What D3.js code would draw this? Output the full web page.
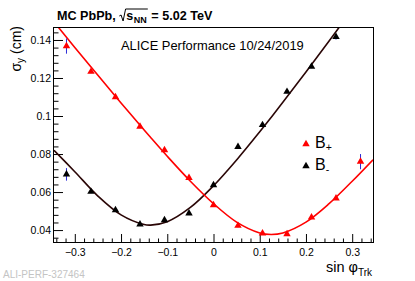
<!DOCTYPE html>
<html>
<head>
<meta charset="utf-8">
<script src="https://cdn.jsdelivr.net/npm/d3@7"></script>
<style>
  body { margin: 0; background: #fff; }
  svg { display: block; font-family: "Liberation Sans", Arial, sans-serif; }
</style>
</head>
<body>
<svg id="chart" width="415" height="281"></svg>
<script>
// bin centres in sin(phi_trk)
const sinPhi = [-0.318, -0.265, -0.212, -0.159, -0.106, -0.053, 0, 0.053, 0.106, 0.159, 0.212, 0.265, 0.318];
const sigmaBplus = [0.1368, 0.1233, 0.1100, 0.0944, 0.0821, 0.0675, 0.0532, 0.0423, 0.0383, 0.0379, 0.0467, 0.0567, 0.0760];
const errBplus = [0.0040, 0.0008, 0.0008, 0.0008, 0.0008, 0.0008, 0.0008, 0.0008, 0.0008, 0.0008, 0.0008, 0.0008, 0.0040];
// B- has no point inside the frame in the last bin
const sigmaBminus = [0.0693, 0.0602, 0.0505, 0.0430, 0.0453, 0.0488, 0.0637, 0.0838, 0.0953, 0.1128, 0.1260, 0.1417];
const errBminus = [0.0033, 0.0008, 0.0008, 0.0008, 0.0008, 0.0008, 0.0008, 0.0010, 0.0008, 0.0008, 0.0008, 0.0015];

// fit curves
const fitX = [-0.345, -0.30, -0.25, -0.20, -0.15, -0.136, -0.10, -0.05, 0, 0.05, 0.10, 0.125, 0.15, 0.20, 0.25, 0.30, 0.345];
const fitBplus = [0.1495, 0.1361, 0.1214, 0.1069, 0.0926, 0.0887, 0.0788, 0.0657, 0.0539, 0.0442, 0.0385, 0.0377, 0.0385, 0.0442, 0.0539, 0.0657, 0.0770];
const fitBminus = [0.0820, 0.0707, 0.0579, 0.0480, 0.0429, 0.0426, 0.0444, 0.0519, 0.0633, 0.0769, 0.0917, 0.0994, 0.1072, 0.1232, 0.1395, 0.1560, 0.1710];

const xTicks = [-0.3, -0.2, -0.1, 0, 0.1, 0.2, 0.3];
const yTicks = [0.04, 0.06, 0.08, 0.1, 0.12, 0.14];

const svg = d3.select('#chart');
const frame = { left: 54, right: 373, top: 28, bottom: 243 };

const x = d3.scaleLinear().domain([-0.345, 0.345]).range([frame.left, frame.right]);
const y = d3.scaleLinear().domain([0.0332, 0.1463]).range([frame.bottom, frame.top]);

svg.append('rect').attr('width', 415).attr('height', 281).attr('fill', '#fff');

svg.append('defs').append('clipPath').attr('id', 'plotClip')
    .append('rect')
    .attr('x', frame.left).attr('y', frame.top)
    .attr('width', frame.right - frame.left).attr('height', frame.bottom - frame.top);

// minor ticks
const xMinor = d3.range(-0.34, 0.345, 0.02).filter(v => Math.abs(v * 10 - Math.round(v * 10)) > 1e-6);
const yMinor = d3.range(0.036, 0.1465, 0.004).filter(v => Math.abs(v * 50 - Math.round(v * 50)) > 1e-6);

svg.append('g')
    .attr('transform', `translate(0,${frame.bottom})`)
    .call(d3.axisBottom(x).tickValues(xTicks).tickSize(-9).tickPadding(6)
        .tickFormat(d => d === 0 ? '0' : d3.format('.1f')(d)));
svg.append('g')
    .attr('transform', `translate(0,${frame.bottom})`)
    .call(d3.axisBottom(x).tickValues(xMinor).tickSize(-4.5).tickFormat(''));

svg.append('g')
    .attr('transform', `translate(${frame.left},0)`)
    .call(d3.axisLeft(y).tickValues(yTicks).tickSize(-9).tickPadding(3)
        .tickFormat(d => String(+d.toFixed(2))));
svg.append('g')
    .attr('transform', `translate(${frame.left},0)`)
    .call(d3.axisLeft(y).tickValues(yMinor).tickSize(-4.5).tickFormat(''));

svg.selectAll('.domain').remove();
svg.selectAll('.tick line').attr('stroke', '#000');
svg.selectAll('.tick text')
    .attr('font-family', '"Liberation Sans", Arial, sans-serif')
    .attr('font-size', 10.5).attr('fill', '#000');

// frame
svg.append('rect')
    .attr('x', frame.left - 0.5).attr('y', frame.top - 0.5)
    .attr('width', frame.right - frame.left + 1).attr('height', frame.bottom - frame.top)
    .attr('fill', 'none').attr('stroke', '#000').attr('stroke-width', 1);

const plot = svg.append('g').attr('clip-path', 'url(#plotClip)');

const line = d3.line()
    .x((d, i) => x(fitX[i]))
    .y(d => y(d))
    .curve(d3.curveCatmullRom.alpha(0.5));

plot.append('path').datum(fitBminus)
    .attr('d', line).attr('fill', 'none')
    .attr('stroke', '#2a0606').attr('stroke-width', 1.6);
plot.append('path').datum(fitBplus)
    .attr('d', line).attr('fill', 'none')
    .attr('stroke', '#ff0000').attr('stroke-width', 1.6);

const tri = d3.symbol().type(d3.symbolTriangle).size(24);

const drawSeries = (values, errs, color) => {
    const pts = values.map((v, i) => ({ x: sinPhi[i], y: v, e: errs[i] }));
    plot.append('g').selectAll('line')
        .data(pts)
        .join('line')
        .attr('x1', d => x(d.x)).attr('x2', d => x(d.x))
        .attr('y1', d => y(d.y - d.e)).attr('y2', d => y(d.y + d.e))
        .attr('stroke', '#2a2ad8').attr('stroke-width', 1);
    plot.append('g').selectAll('path')
        .data(pts)
        .join('path')
        .attr('d', tri)
        .attr('transform', d => `translate(${x(d.x)},${y(d.y)})`)
        .attr('fill', color);
};
drawSeries(sigmaBminus, errBminus, '#000');
drawSeries(sigmaBplus, errBplus, '#ff0000');

// legend
const legend = [
    { color: '#ff0000', sub: '+', y: 148 },
    { color: '#000', sub: '-', y: 170 }
];
legend.forEach(l => {
    svg.append('path').attr('d', tri)
        .attr('transform', `translate(306,${l.y - 4})`).attr('fill', l.color);
    const t = svg.append('text').attr('x', 315).attr('y', l.y)
        .attr('font-size', 16).attr('fill', '#000');
    t.append('tspan').text('B');
    t.append('tspan').attr('font-size', 10.5).attr('dy', 3).text(l.sub);
});

// title with sqrt(s_NN)
const titleY = 20;
const title = svg.append('g').attr('font-weight', 'bold').attr('font-size', 12.6);
let cx = 57;
const part1 = title.append('text').attr('x', cx).attr('y', titleY).text('MC PbPb,');
cx += part1.node().getComputedTextLength() + 3.5;
const sqrtX = cx;
cx += 7;
const sPart = title.append('text').attr('x', cx).attr('y', titleY).text('s');
cx += sPart.node().getComputedTextLength() + 0.5;
const nnPart = title.append('text').attr('x', cx).attr('y', titleY + 3).attr('font-size', 9).text('NN');
cx += nnPart.node().getComputedTextLength() + 1;
title.append('path')
    .attr('d', `M${sqrtX},${titleY - 4} L${sqrtX + 1.8},${titleY - 5} L${sqrtX + 3.8},${titleY + 1} L${sqrtX + 6.3},${titleY - 11} L${cx},${titleY - 11}`)
    .attr('fill', 'none').attr('stroke', '#000').attr('stroke-width', 1);
title.append('text').attr('x', cx + 3.5).attr('y', titleY).text('= 5.02 TeV');

svg.append('text').attr('x', 121).attr('y', 50)
    .attr('font-size', 12.9).attr('fill', '#000')
    .text('ALICE Performance 10/24/2019');

// axis titles
const yTitle = svg.append('text')
    .attr('transform', `translate(21,${frame.top - 2}) rotate(-90)`)
    .attr('text-anchor', 'end').attr('font-size', 14).attr('fill', '#000');
yTitle.append('tspan').text('σ');
yTitle.append('tspan').attr('font-size', 10).attr('dy', 3).text('y');
yTitle.append('tspan').attr('dy', -3).text(' (cm)');

const xTitle = svg.append('text')
    .attr('x', frame.right - 1).attr('y', 272)
    .attr('text-anchor', 'end').attr('font-size', 14.5).attr('fill', '#000');
xTitle.append('tspan').text('sin φ');
xTitle.append('tspan').attr('font-size', 10).attr('dy', 4).text('Trk');

svg.append('text').attr('x', 3).attr('y', 278)
    .attr('font-size', 10).attr('fill', '#c4c4c4')
    .text('ALI-PERF-327464');
</script>
</body>
</html>
